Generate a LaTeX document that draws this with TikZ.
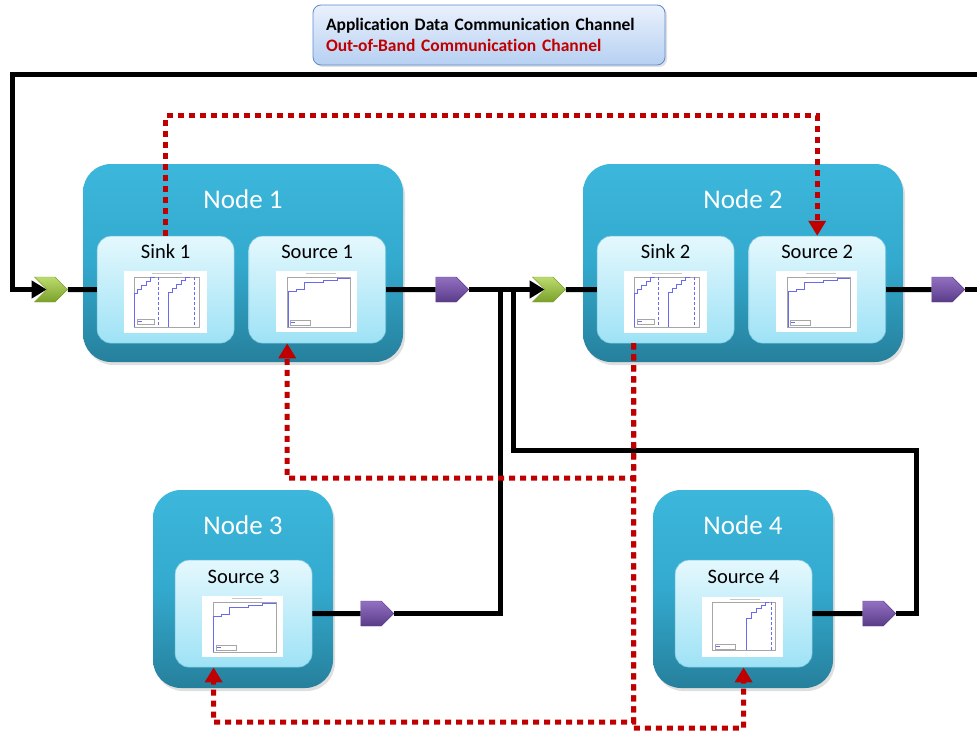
\documentclass[tikz,border=0pt]{standalone}
\usepackage{fontspec}
\setmainfont{Carlito}[Ligatures=CommonOff]
\usepackage{xcolor}
\usetikzlibrary{shapes.symbols,arrows.meta,positioning,shadows}

\definecolor{nodetop}{HTML}{3CB7DB}
\definecolor{nodemid}{HTML}{33A9CE}
\definecolor{nodebot}{HTML}{26809C}
\definecolor{boxtop}{HTML}{E4F8FD}
\definecolor{boxbot}{HTML}{9EE2F6}
\definecolor{boxline}{HTML}{7CC6DC}
\definecolor{oobred}{HTML}{C00000}
\definecolor{chevtop}{HTML}{BCDB6E}
\definecolor{chevbot}{HTML}{7AA02A}
\definecolor{porttop}{HTML}{9270C2}
\definecolor{portbot}{HTML}{5A3C88}
\definecolor{legtop}{HTML}{EAF1FC}
\definecolor{legbot}{HTML}{B6D0F2}
\definecolor{legline}{HTML}{5B8BD0}
\definecolor{plotblue}{HTML}{6A6AF0}

\pgfdeclarelayer{lines}
\pgfdeclarelayer{front}
\pgfsetlayers{main,lines,front}

\begin{document}
\begin{tikzpicture}[x=1pt, y=-1pt,
  nodebox/.style={rectangle, rounded corners=28pt, top color=nodetop, bottom color=nodebot, middle color=nodemid, minimum height=198pt, drop shadow={opacity=0.25, shadow xshift=2pt, shadow yshift=-3pt}},
  innerbox/.style={rectangle, rounded corners=14pt, top color=boxtop, bottom color=boxbot, draw=boxline, line width=0.6pt, minimum width=137pt, minimum height=107pt},
  nodetitle/.style={text=white, font=\fontsize{27}{32}\selectfont},
  boxtitle/.style={font=\fontsize{20.5}{24}\selectfont},
  inport/.style={signal, signal from=west, signal to=east, minimum width=33pt, minimum height=25pt, inner sep=0pt, top color=chevtop, bottom color=chevbot, draw=chevbot, line width=0.4pt},
  outport/.style={signal, signal to=east, minimum width=33pt, minimum height=25pt, inner sep=0pt, top color=porttop, bottom color=portbot, draw=portbot, line width=0.4pt},
  legendbox/.style={rectangle, rounded corners=8pt, top color=legtop, bottom color=legbot, draw=legline, line width=0.8pt, text width=326pt, inner xsep=13pt, minimum height=60pt, align=left, font=\bfseries\fontsize{17.5}{21}\selectfont, drop shadow={opacity=0.25, shadow xshift=2pt, shadow yshift=-2pt}},
  dataline/.style={draw, line width=5pt},
  datatip/.style={-{Triangle[length=15pt,width=17pt]}},
  oob/.style={draw=oobred, line width=5pt, dash pattern=on 6pt off 5pt, -{Triangle[length=15pt,width=17pt]}},
  plotaxis/.style={draw=gray!70, line width=0.4pt},
  plotline/.style={draw=plotblue, line width=0.7pt},
  plottext/.style={draw=gray!45, line width=1pt},
  sinkplot/.pic={
    \fill[white] (0,0) rectangle (83,62);
    \draw[plottext] (28,3) -- (58,3);
    \draw[plotaxis] (10,6) rectangle (75,56);
    \draw[plotline] (11,56) -- (11,23) -- (14,23) -- (14,19) -- (18,19) -- (18,15) -- (23,15) -- (23,11) -- (27,11) -- (27,7) -- (31,7) -- (31,6);
    \draw[plotline, densely dashed] (35,6) -- (35,56);
    \draw[plotline] (45,56) -- (45,22) -- (49,22) -- (49,18) -- (53,18) -- (53,14) -- (58,14) -- (58,10) -- (62,10) -- (62,7) -- (66,7) -- (66,6);
    \draw[plotline, densely dashed] (71,6) -- (71,56);
    \draw[plotaxis] (13,48) rectangle (30,53);
    \draw[plotline] (14,50.5) -- (18,50.5);
  },
  sourceplot/.pic={
    \fill[white] (0,0) rectangle (81,61);
    \draw[plottext] (30,3) -- (60,3);
    \draw[plotaxis] (11,6) rectangle (74,56);
    \draw[plotline] (12,56) -- (12,21) -- (20,21) -- (20,19) -- (28,19) -- (28,12) -- (47,12) -- (47,10) -- (61,10) -- (61,8) -- (74,8);
    \draw[plotaxis] (14,49) rectangle (34,54);
    \draw[plotline] (15,51.5) -- (19,51.5);
  },
  lateplot/.pic={
    \fill[white] (0,0) rectangle (81,60);
    \draw[plottext] (28,2.5) -- (58,2.5);
    \draw[plotaxis] (10,5) rectangle (73,53);
    \draw[plotline] (45,53) -- (45,22) -- (50,22) -- (50,16) -- (55,16) -- (55,12) -- (60,12) -- (60,9) -- (64,9) -- (64,6) -- (67,6) -- (67,5);
    \draw[plotline, densely dashed] (70,5) -- (70,53);
    \draw[plotaxis] (13,47) rectangle (33,52);
    \draw[plotline] (14,49.5) -- (18,49.5);
  }]

  \useasboundingbox (0,0) rectangle (977,733);

  % legend
  \node [legendbox] (legend) at (489,35) {Application Data Communication Channel\\\textcolor{oobred}{Out-of-Band Communication Channel}};

  % nodes
  \node [nodebox, minimum width=320pt] (node1) at (243,263) {};
  \node [nodebox, minimum width=320pt] (node2) at (743,263) {};
  \node [nodebox, minimum width=180pt] (node3) at (243,589) {};
  \node [nodebox, minimum width=180pt] (node4) at (743,589) {};
  \node [nodetitle] (title1) at ([yshift=-35pt]node1.north) {Node 1};
  \node [nodetitle] (title2) at ([yshift=-35pt]node2.north) {Node 2};
  \node [nodetitle] (title3) at ([yshift=-35pt]node3.north) {Node 3};
  \node [nodetitle] (title4) at ([yshift=-35pt]node4.north) {Node 4};

  % sinks and sources
  \node [innerbox, below right=72pt and 14pt of node1.north west] (sink1) {};
  \node [innerbox, right=14pt of sink1] (source1) {};
  \node [innerbox, below right=72pt and 14pt of node2.north west] (sink2) {};
  \node [innerbox, right=14pt of sink2] (source2) {};
  \node [innerbox, below right=70pt and 22pt of node3.north west] (source3) {};
  \node [innerbox, below right=70pt and 22pt of node4.north west] (source4) {};
  \node [boxtitle] (lsink1) at ([yshift=-16pt]sink1.north) {Sink 1};
  \node [boxtitle] (lsource1) at ([yshift=-16pt]source1.north) {Source 1};
  \node [boxtitle] (lsink2) at ([yshift=-16pt]sink2.north) {Sink 2};
  \node [boxtitle] (lsource2) at ([yshift=-16pt]source2.north) {Source 2};
  \node [boxtitle] (lsource3) at ([yshift=-17pt]source3.north) {Source 3};
  \node [boxtitle] (lsource4) at ([yshift=-17pt]source4.north) {Source 4};

  % plots
  \pic at ([shift={(27,35)}]sink1.north west) {sinkplot};
  \pic at ([shift={(28,35)}]source1.north west) {sourceplot};
  \pic at ([shift={(27,35)}]sink2.north west) {sinkplot};
  \pic at ([shift={(28,35)}]source2.north west) {sourceplot};
  \pic at ([shift={(27,36)}]source3.north west) {sourceplot};
  \pic at ([shift={(27,37)}]source4.north west) {lateplot};

  % ports
  \begin{pgfonlayer}{front}
    \node [inport] (chev1) at (51,289.5) {};
    \node [inport] (chev2) at (549,289.5) {};
    \node [outport] (pent1) at (446,289.5) {};
    \node [outport] (pent2) at (942,289.5) {};
    \node [outport] (pent3) at (371,613.5) {};
    \node [outport] (pent4) at (873,613.5) {};
  \end{pgfonlayer}

  \coordinate (edgeR) at (977,75);
  \coordinate (edgeL) at (12,75);
  \coordinate (edgeOut) at (977,289.5);
  \coordinate (join3) at (500,289.5);
  \coordinate (join4) at (513,289.5);
  \coordinate (bend4) at (916,450);
  \coordinate (oobtop) at (490,116);
  \coordinate (oobfrom) at ([xshift=-32pt]sink2.south);
  \coordinate (oobmid) at (633.5,478);
  \coordinate (ooblow) at (633.5,722);
  \coordinate (ooblow2) at (633.5,728);

  \begin{pgfonlayer}{lines}
    % application data
    \draw [dataline, datatip] (edgeR) -- (edgeL) |- (chev1.west);
    \draw [dataline] (chev1.east) -- (sink1.west);
    \draw [dataline] (source1.east) -- (pent1.west);
    \draw [dataline, datatip] (pent1.east) -- (chev2.west);
    \draw [dataline] (chev2.east) -- (sink2.west);
    \draw [dataline] (source2.east) -- (pent2.west);
    \draw [dataline] (pent2.east) -- (edgeOut);
    \draw [dataline] (source3.east) -- (pent3.west);
    \draw [dataline] (pent3.east) -| (join3);
    \draw [dataline] (source4.east) -- (pent4.west);
    \draw [dataline] (pent4.east) -| (bend4) -| (join4);
    % out-of-band
    \draw [oob] (sink1.north) |- (oobtop) -| (source2.north);
    \draw [oob] (oobfrom) -- (oobmid) -| ([xshift=-30pt]source1.south);
    \draw [oob] (oobfrom) -- (ooblow) -| ([xshift=-30pt]source3.south);
    \draw [oob] (oobfrom) -- (ooblow2) -| (source4.south);
  \end{pgfonlayer}
\end{tikzpicture}
\end{document}
